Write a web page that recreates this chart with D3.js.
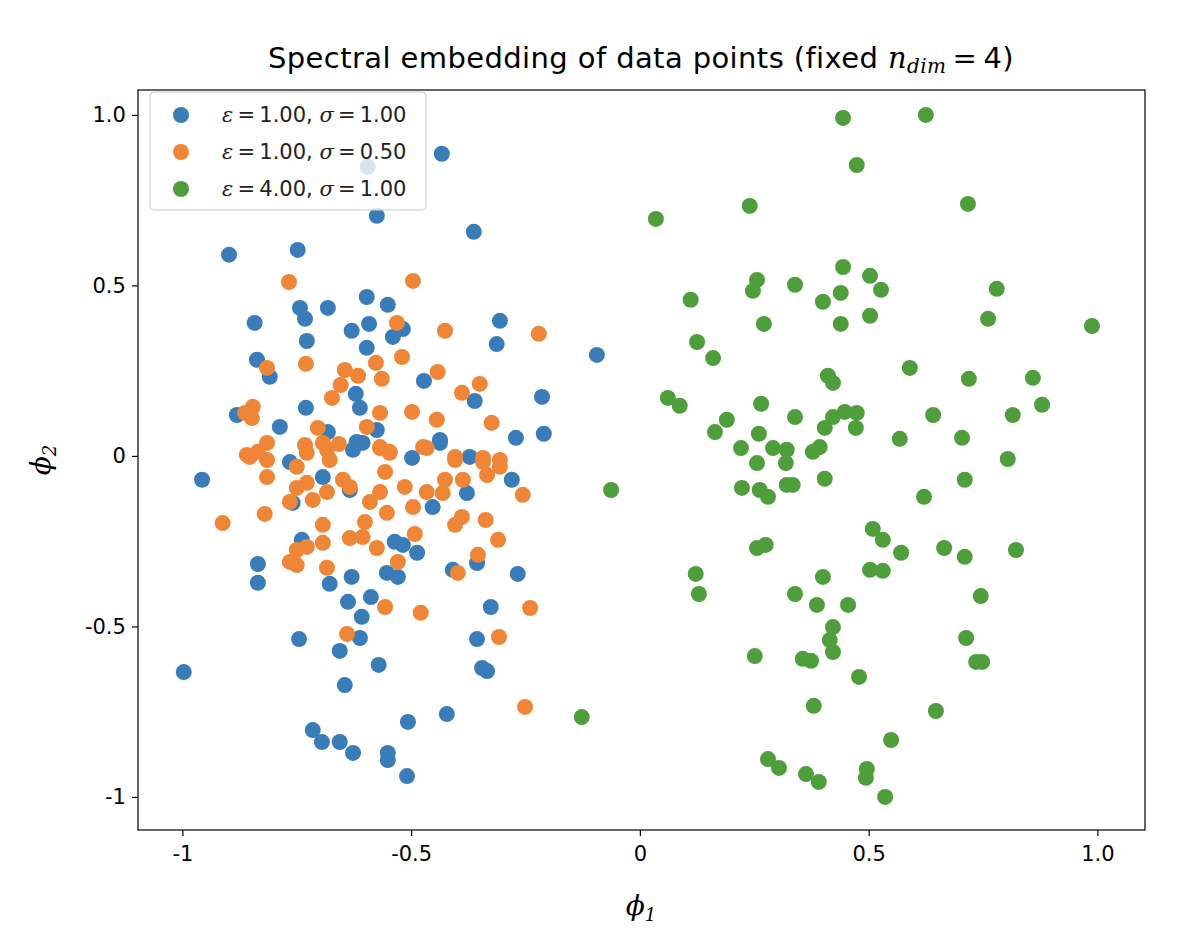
<!DOCTYPE html>
<html lang="en">
<head>
<meta charset="UTF-8">
<title>Spectral embedding</title>
<script src="https://d3js.org/d3.v7.min.js"></script>
<style>
  body { margin: 0; background: #fff; font-family: "DejaVu Sans", sans-serif; }
</style>
</head>
<body>
<svg id="chart" width="1200" height="935"></svg>
<script>
// eps=1.00, sigma=1.00
const blueX = [-0.433,-0.595,-0.575,-0.363,-0.898,-0.748,-0.743,-0.732,-0.682,-0.597,-0.551,-0.842,-0.630,-0.592,-0.540,-0.518,-0.306,-0.313,-0.094,-0.728,-0.597,-0.837,-0.809,-0.472,-0.214,-0.361,-0.621,-0.612,-0.730,-0.881,-0.787,-0.271,-0.210,-0.437,-0.575,-0.682,-0.619,
  -0.957,-0.765,-0.693,-0.627,-0.606,-0.498,-0.437,-0.372,-0.280,-0.378,-0.453,-0.759,-0.634,-0.739,-0.536,-0.518,-0.487,-0.356,-0.409,-0.835,-0.835,-0.678,-0.630,-0.553,-0.529,-0.638,-0.588,-0.267,-0.326,-0.608,-0.612,-0.745,-0.656,-0.356,-0.345,-0.334,-0.571,-0.997,-0.645,-0.422,-0.507,-0.715,-0.695,-0.656,-0.627,-0.551,-0.551,-0.509];
const blueY = [0.886,0.848,0.704,0.657,0.590,0.604,0.434,0.402,0.434,0.466,0.443,0.390,0.367,0.387,0.349,0.372,0.396,0.328,0.296,0.337,0.317,0.282,0.232,0.220,0.173,0.161,0.182,0.141,0.141,0.120,0.085,0.053,0.065,0.047,0.076,0.070,0.041,
  -0.070,-0.018,-0.062,0.018,0.038,-0.006,0.038,-0.003,-0.070,-0.109,-0.150,-0.138,-0.100,-0.246,-0.252,-0.261,-0.284,-0.314,-0.334,-0.317,-0.372,-0.375,-0.355,-0.343,-0.355,-0.428,-0.414,-0.346,-0.443,-0.472,-0.534,-0.537,-0.572,-0.537,-0.622,-0.631,-0.613,-0.634,-0.672,-0.757,-0.780,-0.804,-0.839,-0.839,-0.871,-0.871,-0.892,-0.939];

// eps=1.00, sigma=0.50
const orangeX = [-0.767,-0.496,-0.531,-0.426,-0.221,-0.730,-0.577,-0.520,-0.815,-0.645,-0.616,-0.564,-0.442,-0.350,-0.389,-0.654,-0.673,-0.568,-0.498,-0.444,-0.324,-0.846,-0.863,-0.848,-0.704,-0.597,-0.658,-0.474,-0.815,-0.732,-0.693,-0.568,-0.547,-0.859,-0.835,-0.404,-0.343,-0.306,
  -0.853,-0.815,-0.815,-0.750,-0.728,-0.684,-0.678,-0.568,-0.547,-0.466,-0.557,-0.649,-0.634,-0.728,-0.750,-0.765,-0.715,-0.684,-0.590,-0.568,-0.553,-0.514,-0.496,-0.466,-0.426,-0.431,-0.404,-0.387,-0.343,-0.306,-0.334,-0.256,-0.912,-0.820,-0.693,-0.601,-0.634,-0.606,-0.693,-0.728,-0.750,-0.765,-0.750,-0.684,-0.575,-0.492,-0.389,-0.404,-0.337,-0.310,-0.529,-0.354,-0.398,-0.557,-0.479,-0.240,-0.640,-0.308,-0.251];
const orangeY = [0.510,0.513,0.390,0.367,0.358,0.270,0.273,0.290,0.258,0.252,0.235,0.226,0.246,0.211,0.185,0.208,0.170,0.126,0.129,0.106,0.097,0.144,0.126,0.111,0.082,0.085,0.035,0.026,0.038,0.032,0.038,0.026,0.012,0.003,0.012,-0.003,-0.006,-0.012,
  -0.003,-0.012,-0.062,-0.032,0.009,0.018,-0.012,0.023,0.009,0.023,-0.047,-0.070,-0.091,-0.079,-0.094,-0.135,-0.129,-0.106,-0.135,-0.106,-0.167,-0.091,-0.150,-0.106,-0.070,-0.109,-0.012,-0.070,-0.018,-0.032,-0.056,-0.114,-0.197,-0.170,-0.202,-0.194,-0.241,-0.238,-0.255,-0.267,-0.276,-0.311,-0.320,-0.328,-0.270,-0.229,-0.179,-0.202,-0.188,-0.246,-0.311,-0.290,-0.343,-0.443,-0.460,-0.446,-0.522,-0.531,-0.736];

// eps=4.00, sigma=1.00
const greenX = [0.444,0.625,0.474,0.240,0.035,0.717,0.444,0.503,0.527,0.256,0.247,0.339,0.439,0.400,0.111,0.780,0.761,0.988,0.271,0.439,0.503,0.125,0.160,0.590,0.719,0.859,0.411,0.422,0.061,0.087,0.265,0.339,0.641,0.815,0.879,0.190,0.164,0.260,0.422,0.448,0.474,0.404,0.472,0.568,0.704,0.221,0.291,0.321,0.393,0.378,0.804,0.256,0.319,
  -0.063,0.223,0.262,0.280,0.321,0.334,0.404,0.621,0.710,0.509,0.531,0.571,0.665,0.710,0.822,0.256,0.275,0.122,0.129,0.503,0.531,0.400,0.339,0.387,0.455,0.745,0.422,0.415,0.422,0.251,0.356,0.374,0.713,0.735,0.748,0.479,0.380,0.647,0.549,0.280,0.304,0.363,0.391,0.496,0.494,0.536,-0.127];
const greenY = [0.991,1.000,0.853,0.733,0.695,0.739,0.554,0.528,0.487,0.516,0.484,0.502,0.478,0.452,0.458,0.490,0.402,0.381,0.387,0.387,0.411,0.334,0.287,0.258,0.226,0.229,0.235,0.214,0.170,0.147,0.153,0.114,0.120,0.120,0.150,0.106,0.070,0.065,0.114,0.129,0.126,0.082,0.082,0.050,0.053,0.023,0.023,0.018,0.026,0.012,-0.009,-0.021,-0.021,
  -0.100,-0.094,-0.100,-0.120,-0.085,-0.085,-0.067,-0.120,-0.070,-0.214,-0.246,-0.284,-0.270,-0.296,-0.276,-0.270,-0.261,-0.346,-0.405,-0.334,-0.337,-0.355,-0.405,-0.437,-0.437,-0.411,-0.502,-0.540,-0.575,-0.587,-0.595,-0.601,-0.534,-0.604,-0.604,-0.648,-0.733,-0.748,-0.833,-0.889,-0.915,-0.933,-0.956,-0.918,-0.944,-1.000,-0.766];

const tickVals = [-1, -0.5, 0, 0.5, 1.0];
const tickLabels = ["-1", "-0.5", "0", "0.5", "1.0"];
const seriesColors = ["#3a7cb8", "#ef8536", "#4e9e3c"];
const legendEps = ["1.00", "1.00", "4.00"];
const legendSigma = ["1.00", "0.50", "1.00"];

const svg = d3.select("#chart");
const mLeft = 138, mRight = 1145, mTop = 90, mBottom = 830;

const x = d3.scaleLinear().domain([-1.097, 1.104]).range([mLeft, mRight]);
const y = d3.scaleLinear().domain([-1.097, 1.073]).range([mBottom, mTop]);

const series = [
  { xs: blueX, ys: blueY },
  { xs: orangeX, ys: orangeY },
  { xs: greenX, ys: greenY }
];

series.forEach((s, i) => {
  svg.append("g").selectAll("circle")
    .data(s.xs.map((v, j) => [v, s.ys[j]]))
    .enter().append("circle")
    .attr("cx", d => x(d[0]))
    .attr("cy", d => y(d[1]))
    .attr("r", 8)
    .attr("fill", seriesColors[i]);
});

// frame
svg.append("rect")
  .attr("x", mLeft).attr("y", mTop)
  .attr("width", mRight - mLeft).attr("height", mBottom - mTop)
  .attr("fill", "none").attr("stroke", "#000").attr("stroke-width", 1.2);

const xAxis = svg.append("g")
  .attr("transform", `translate(0,${mBottom})`)
  .call(d3.axisBottom(x).tickValues(tickVals).tickFormat((d, i) => tickLabels[i]).tickSize(6).tickSizeOuter(0));
const yAxis = svg.append("g")
  .attr("transform", `translate(${mLeft},0)`)
  .call(d3.axisLeft(y).tickValues(tickVals).tickFormat((d, i) => tickLabels[i]).tickSize(6).tickSizeOuter(0));
[xAxis, yAxis].forEach(a => {
  a.select(".domain").remove();
  a.selectAll("text").attr("font-size", 21).attr("font-family", "DejaVu Sans").attr("fill", "#000");
  a.selectAll("line").attr("stroke", "#000").attr("stroke-width", 1.2);
});
xAxis.selectAll("text").attr("dy", "1.05em");
yAxis.selectAll("text").attr("dx", "-0.15em");

// title
const title = svg.append("text")
  .attr("x", 641).attr("y", 68)
  .attr("text-anchor", "middle").attr("font-size", 29).attr("letter-spacing", 0.4);
title.append("tspan").text("Spectral embedding of data points (fixed ");
title.append("tspan").attr("font-style", "italic").attr("font-family", "DejaVu Serif").text("n");
title.append("tspan").attr("font-style", "italic").attr("font-family", "DejaVu Serif").attr("font-size", 20).attr("dy", 5).text("dim");
title.append("tspan").attr("dy", -5).text("\u2009=\u20094)");

// axis labels
svg.append("text")
  .attr("x", 641).attr("y", 915)
  .attr("text-anchor", "middle").attr("font-size", 28)
  .attr("font-family", "DejaVu Serif").attr("font-style", "italic")
  .html('\u03D5<tspan font-size="18" dy="6">1</tspan>');
svg.append("text")
  .attr("transform", "translate(50,460) rotate(-90)")
  .attr("text-anchor", "middle").attr("font-size", 28)
  .attr("font-family", "DejaVu Serif").attr("font-style", "italic")
  .html('\u03D5<tspan font-size="18" dy="6">2</tspan>');

// legend
const lg = svg.append("g");
lg.append("rect")
  .attr("x", 150).attr("y", 92).attr("width", 276).attr("height", 118).attr("rx", 4)
  .attr("fill", "#fff").attr("fill-opacity", 0.8)
  .attr("stroke", "#ccc").attr("stroke-width", 1);
legendEps.forEach((e, i) => {
  const cy = 115 + i * 37;
  lg.append("circle").attr("cx", 181).attr("cy", cy).attr("r", 8).attr("fill", seriesColors[i]);
  const t = lg.append("text").attr("x", 222).attr("y", cy + 7).attr("font-size", 21).attr("fill", "#222");
  t.append("tspan").attr("font-style", "italic").attr("font-family", "DejaVu Serif").text("ε");
  t.append("tspan").text("\u2009=\u2009" + e + ", ");
  t.append("tspan").attr("font-style", "italic").attr("font-family", "DejaVu Serif").text("σ");
  t.append("tspan").text("\u2009=\u2009" + legendSigma[i]);
});
</script>
</body>
</html>
